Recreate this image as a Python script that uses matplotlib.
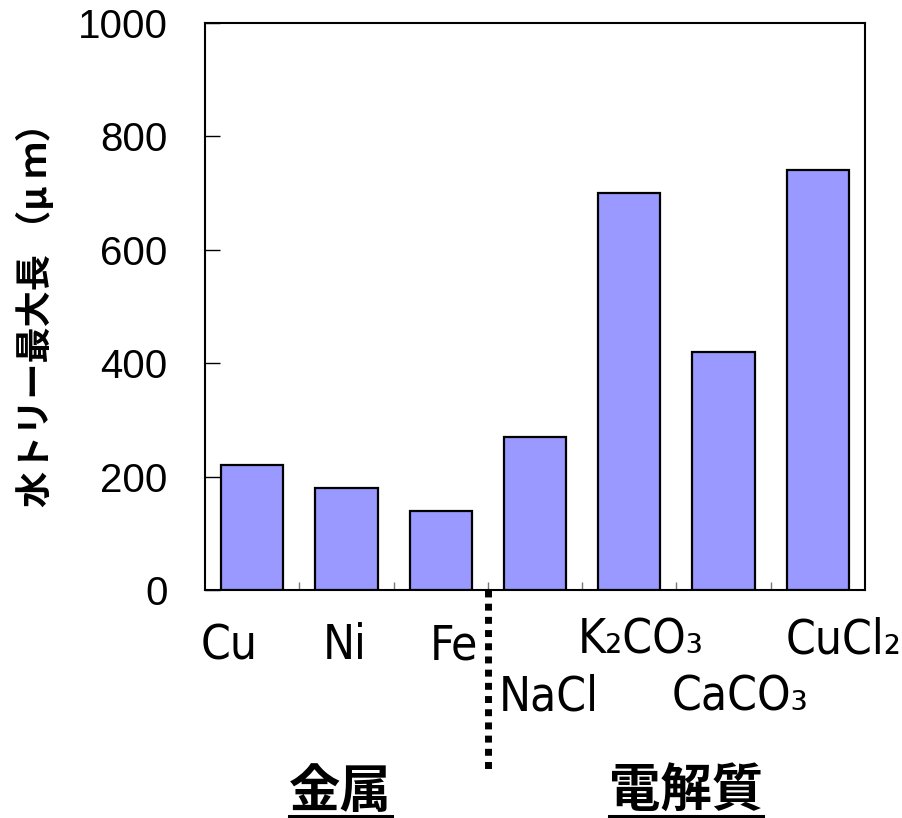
import matplotlib
matplotlib.use("Agg")
import matplotlib.pyplot as plt
from matplotlib import font_manager
from matplotlib.font_manager import FontProperties
from matplotlib.textpath import TextPath
from matplotlib.lines import Line2D
import matplotlib.transforms as mtransforms

#######################
#   DATA
#######################

metals = ["Cu", "Ni", "Fe"]
electrolytes = ["NaCl", "K₂CO₃", "CaCO₃", "CuCl₂"]
metal_values = [220, 180, 140]
electrolyte_values = [270, 700, 420, 740]
group_names = ["金属", "電解質"]
ylabel = "水トリー最大長 （μ ｍ）"
yticks = [0, 200, 400, 600, 800, 1000]

categories = metals + electrolytes
values = metal_values + electrolyte_values

#######################
#   FONTS
#######################

def pick_narrow_font():
    # look for a condensed / narrow regular face, else plain DejaVu Sans
    found = []
    for f in font_manager.fontManager.ttflist:
        fn = f.fname.lower()
        if "bold" in fn or "italic" in fn or "oblique" in fn or "light" in fn:
            continue
        if "condensed" in str(f.stretch) or "narrow" in fn or "condensed" in fn:
            found.append(f)
    order = ["Liberation Sans Narrow", "DejaVu Sans", "Roboto Condensed", "Noto Sans",
             "Open Sans", "Roboto"]
    found.sort(key=lambda f: order.index(f.name) if f.name in order else 99)
    for f in found:
        if "semi" in str(f.stretch) and len(found) > 1:
            continue
        return FontProperties(fname=f.fname)
    return FontProperties(family="DejaVu Sans")

label_font = pick_narrow_font()
# size the label font so "NaCl" is about 92 px wide, as in the original
w100 = TextPath((0, 0), "NaCl", size=100, prop=label_font).get_extents().width
label_size = min(40, 92 * 0.72 / (w100 / 100))
label_font.set_size(label_size)

cjk = ["Noto Sans CJK JP", "DejaVu Sans"]

#######################
#   PLOT
#######################

fig = plt.figure(figsize=(9.03, 8.18), dpi=100)
ax = fig.add_axes([205 / 903, 1 - 590 / 818, 660 / 903, 567 / 818])

x = list(range(len(categories)))
ax.bar(x, values, width=0.66, color="#9999FF", edgecolor="black", linewidth=1.6, zorder=3)

ax.set_xlim(-0.5, len(categories) - 0.5)
ax.set_ylim(0, 1000)
ax.set_yticks(yticks)
ax.set_yticklabels([str(t) for t in yticks], fontfamily="Liberation Sans", fontsize=29)
ax.tick_params(axis="y", direction="in", length=11, width=1, pad=27)

ax.set_xticks([])
ax.set_xticks([i + 0.5 for i in range(len(categories) - 1)], minor=True)
ax.tick_params(axis="x", which="minor", direction="in", length=6, width=1, color="#777777")

for s in ax.spines.values():
    s.set_linewidth(1.5)

ax.set_ylabel(ylabel, fontfamily=cjk, fontsize=26, fontweight="bold")
ax.yaxis.set_label_coords(-150 / 660, 0.5)

# category labels, staggered like the original
label_dx = [-0.245, -0.015, 0.14, 0.15, 0.12, 0.17, 0.27]
label_dy = [50, 50, 50, 87, 46, 87, 46]
for i, lab in enumerate(categories):
    ax.annotate(lab, xy=(i + label_dx[i], 0), xycoords=("data", "axes fraction"),
                xytext=(0, -label_dy[i]), textcoords="offset points",
                ha="center", va="baseline", fontproperties=label_font,
                annotation_clip=False)

# dotted divider between metals and electrolytes
div = len(metals) - 0.5
ax.plot([div, div], [0, -322], color="black", linewidth=5,
        linestyle=(0, (1, 0.9)), dash_capstyle="butt", clip_on=False, zorder=5)

# group titles, underlined
trans = mtransforms.blended_transform_factory(ax.transData, fig.transFigure)
group_x = [0.94, 4.6]
texts = []
for gx, name in zip(group_x, group_names):
    t = ax.text(gx, 27 / 818, name, transform=trans, ha="center", va="center",
                fontfamily=cjk, fontsize=37, fontweight="bold")
    texts.append(t)

fig.canvas.draw()
r = fig.canvas.get_renderer()
for t in texts:
    bb = t.get_window_extent(r)
    fig.add_artist(Line2D([bb.x0 / 903, bb.x1 / 903], [2 / 818, 2 / 818],
                          transform=fig.transFigure, color="black", linewidth=2.2))

fig.savefig("out.png", dpi=100)
